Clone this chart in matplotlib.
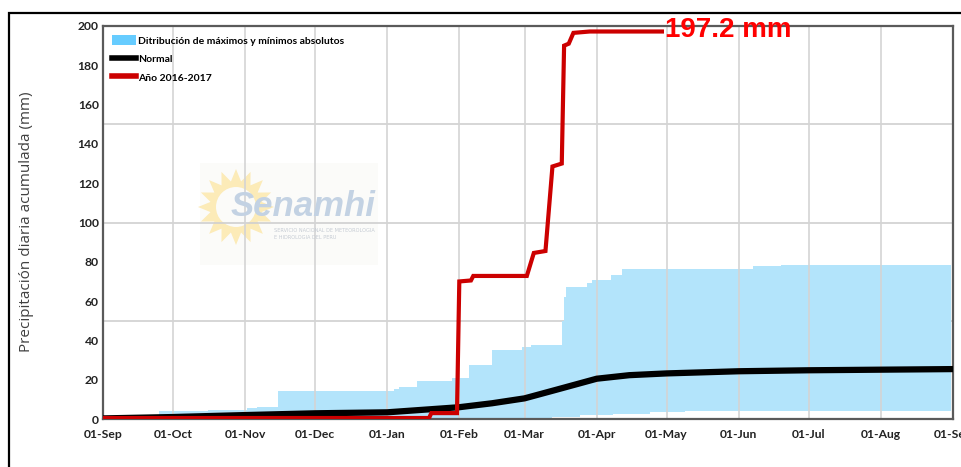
import numpy as np
import pandas as pd
import matplotlib
matplotlib.use("Agg")
import matplotlib.pyplot as plt
import matplotlib.dates as mdates
from matplotlib.patches import Patch, Rectangle, Polygon
from matplotlib.lines import Line2D

# days counted from 01-Sep-2016
start = pd.Timestamp("2016-09-01")

# Año 2016-2017 (accumulated rain, mm)
red_days = [0, 140, 141, 152, 153, 158, 159, 182, 185, 190, 193, 197, 198, 200, 202, 209, 240]
red_vals = [0.5, 0.5, 3, 3, 70, 70.5, 72.8, 72.8, 84.5, 85.5, 128.5, 130, 190, 191, 196.5, 197.2, 197.2]

# Normal
norm_days = [0, 30, 61, 91, 122, 153, 167, 181, 195, 212, 226, 242, 273, 303, 334, 365]
norm_vals = [0.3, 1, 2, 2.9, 3.4, 6, 8, 10.5, 15, 20.5, 22.3, 23.2, 24.3, 24.8, 25.1, 25.4]

# absolute maximum / minimum envelope
max_days = [0, 12, 24, 45, 62, 66, 75, 123, 125, 127, 135, 150, 157, 167, 180, 184, 196, 197,
            198, 199, 208, 210, 218, 223, 279, 291, 364]
max_vals = [0.3, 2, 4, 4.5, 5.5, 6.3, 14.4, 14.4, 15.5, 16.2, 19.5, 20.8, 27.5, 35, 36.8, 37.6,
            37.6, 50, 62, 67.3, 69.4, 70.7, 73.3, 76.2, 77.8, 78.5, 78.5]
min_days = [0, 193, 205, 219, 235, 250, 364]
min_vals = [0, 1.2, 1.8, 2.5, 3.7, 4.0, 4.0]

total_label = "197.2 mm"


def to_dates(days):
    return mdates.date2num(start + pd.to_timedelta(days, unit="D"))


def steps(x, y):
    # vertices of a step-post line
    xs, ys = [x[0]], [y[0]]
    for i in range(1, len(x)):
        xs += [x[i], x[i]]
        ys += [y[i - 1], y[i]]
    return np.array(xs), np.array(ys)


H = 467
fig = plt.figure(figsize=(9.61, 4.67), dpi=100)
ax = fig.add_axes([103 / 961, 1 - 419 / H, 850 / 961, 393 / H])

# outer frame of the original picture
fig.patches.append(Rectangle((9 / 961, -0.2), 1.2, 1.2 - 13 / H, transform=fig.transFigure,
                             fill=False, edgecolor="black", linewidth=1.6))

# watermark (pixel coords)
ax.add_patch(Rectangle((200, H - 265), 178, 102, transform=None, facecolor="#fbfbf9",
                       edgecolor="none", zorder=0.5))
cx, cy = 236, H - 207
ang = np.linspace(0, 2 * np.pi, 33)[:-1]
rad = np.where(np.arange(32) % 2 == 0, 38, 26)
ax.add_patch(Polygon(np.c_[cx + rad * np.cos(ang), cy + rad * np.sin(ang)], closed=True, transform=None,
                     facecolor="#fcebb8", edgecolor="none", zorder=0.6))
ax.add_patch(plt.Circle((cx, cy), 20, transform=None, facecolor="#fbfbf9", edgecolor="none", zorder=0.7))
fig.text(231 / 961, 1 - 206 / H, "Senamhi", fontsize=25, fontweight="bold", fontstyle="italic",
         family="Liberation Sans", color="#c3d2e3", va="center", ha="left", zorder=0.8)
fig.text(274 / 961, 1 - 231 / H, "SERVICIO NACIONAL DE METEOROLOGIA", fontsize=3.6,
         color="#c5cbd3", va="center", ha="left")
fig.text(274 / 961, 1 - 238 / H, "E HIDROLOGIA DEL PERU", fontsize=3.6,
         color="#c5cbd3", va="center", ha="left")

# envelope
ux, uy = steps(to_dates(max_days), max_vals)
lx, ly = steps(to_dates(min_days), min_vals)
ax.fill(np.concatenate([ux, lx[::-1]]), np.concatenate([uy, ly[::-1]]),
        facecolor="#b3e4fb", edgecolor="none", zorder=1)

ax.plot(to_dates(norm_days), norm_vals, color="black", lw=4.5, zorder=3, solid_capstyle="butt")
ax.plot(to_dates(red_days), red_vals, color="#cc0000", lw=3, zorder=4, solid_joinstyle="miter")
ax.text(to_dates([red_days[-1]])[0] + 1.5, 197.8, total_label, color="red", fontsize=20,
        fontweight="bold", family="Liberation Sans",
        va="center", ha="left", clip_on=False, zorder=5)

ax.set_xlim(to_dates([0])[0], to_dates([365])[0])
ax.set_ylim(0, 200)
ax.xaxis.set_major_locator(mdates.MonthLocator())
ax.xaxis.set_major_formatter(mdates.DateFormatter("%d-%b"))
ax.set_yticks(np.arange(0, 201, 20))
ax.grid(axis="x", color="#d4d4d4", lw=1.2, zorder=0)
for v in (50, 100, 150):
    ax.axhline(v, color="#cfcfcf", lw=1.2, zorder=0.9)

ax.tick_params(length=0, labelsize=8.7, labelcolor="#222222")
ax.tick_params(axis="x", pad=7)
ax.tick_params(axis="y", pad=3)
for lab in ax.get_xticklabels() + ax.get_yticklabels():
    lab.set_fontweight("bold")
    lab.set_family("Lato")
for s in ax.spines.values():
    s.set_color("#5a5a5a")
    s.set_linewidth(1.6)

fig.text(27 / 961, 1 - 222 / H, "Precipitación diaria acumulada (mm)", rotation=90, family="Open Sans",
         fontsize=11, color="#404040", va="center", ha="center")

handles = [Patch(facecolor="#66ccff", edgecolor="none"),
           Line2D([], [], color="black", lw=4),
           Line2D([], [], color="#cc0000", lw=4)]
labels = ["Ditribución de máximos y mínimos absolutos", "Normal", "Año 2016-2017"]
ax.legend(handles, labels, loc="upper left", frameon=False, handlelength=2.3, handleheight=1.1,
          handletextpad=0.2, labelspacing=0.75, borderaxespad=0.2, borderpad=0.7,
          prop={"family": "Lato", "weight": "bold", "size": 7.5})

fig.savefig("out.png", dpi=100)
